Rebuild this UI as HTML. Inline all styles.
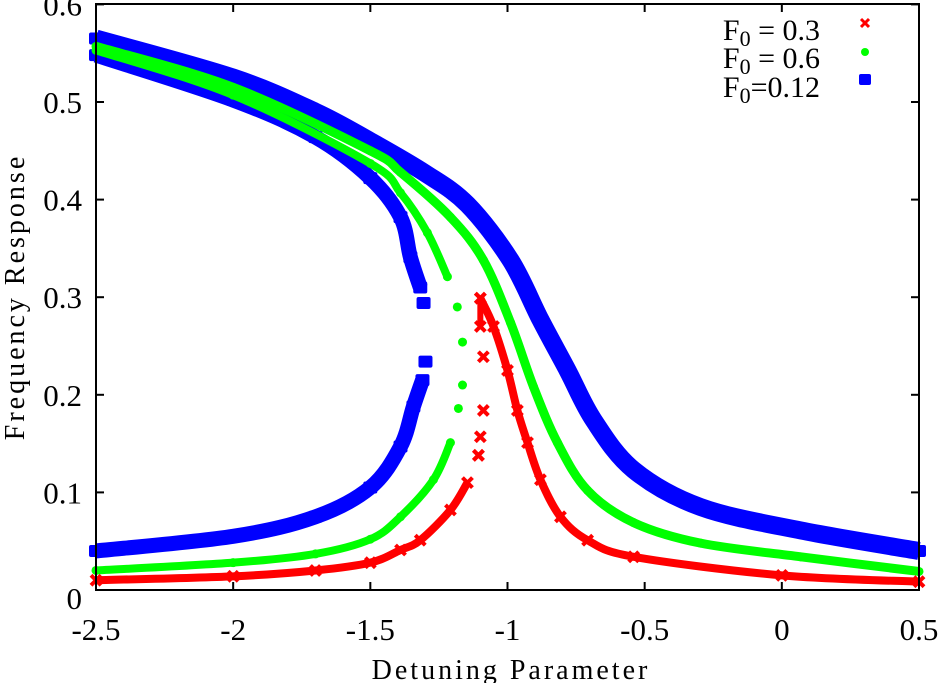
<!DOCTYPE html>
<html><head><meta charset="utf-8"><style>
body{margin:0;background:#fff;}
svg text{font-family:"Liberation Serif",serif;fill:#000;}
</style></head><body>
<svg id="chart" width="946" height="683" viewBox="0 0 946 683" xmlns="http://www.w3.org/2000/svg">
<defs><clipPath id="clipx"><rect x="86" y="0" width="845" height="600"/></clipPath></defs>
<g id="plot" clip-path="url(#clipx)"></g>
<rect x="96" y="4" width="823" height="586" fill="none" stroke="#000" stroke-width="2"/>
<g id="axes"></g>
<text x="511" y="679" font-size="28" text-anchor="middle" letter-spacing="3">Detuning Parameter</text>
<text transform="translate(24,297) rotate(-90)" font-size="28" text-anchor="middle" letter-spacing="3">Frequency Response</text>
<g>
<text x="820" y="40" font-size="30" text-anchor="end">F<tspan font-size="22" dy="6">0</tspan><tspan dy="-6"> = 0.3</tspan></text>
<text x="820" y="68" font-size="30" text-anchor="end">F<tspan font-size="22" dy="6">0</tspan><tspan dy="-6"> = 0.6</tspan></text>
<text x="820" y="97" font-size="30" text-anchor="end">F<tspan font-size="22" dy="6">0</tspan><tspan dy="-6">=0.12</tspan></text>
<g stroke="#f00" stroke-width="3"><line x1="861" y1="19" x2="869" y2="27"/><line x1="869" y1="19" x2="861" y2="27"/></g>
<circle cx="865" cy="52" r="4" fill="#0f0"/>
<rect x="859" y="74" width="12" height="11" rx="2" fill="#00f"/>
</g>
</svg>
<script>
const xTicks = [-2.5, -2, -1.5, -1, -0.5, 0, 0.5];
const xTickLabels = ["-2.5", "-2", "-1.5", "-1", "-0.5", "0", "0.5"];
const yTicks = [0, 0.1, 0.2, 0.3, 0.4, 0.5, 0.6];
const yTickLabels = ["0", "0.1", "0.2", "0.3", "0.4", "0.5", "0.6"];

const blueOuter = [[-2.5,0.565],[-2,0.525],[-1.7,0.49],[-1.5,0.46],[-1.3,0.427],[-1.146,0.395],[-0.989,0.338],[-0.88,0.277],[-0.781,0.225],[-0.686,0.174],[-0.54,0.123],[-0.296,0.085],[0.069,0.061],[0.5,0.04]];
const blueInner = [[-2.5,0.548],[-2,0.502],[-1.7,0.464],[-1.5,0.422],[-1.39,0.382],[-1.354,0.341],[-1.318,0.31],[-1.306,0.294]];
const blueLower = [[-2.5,0.04],[-2,0.055],[-1.7,0.075],[-1.5,0.105],[-1.39,0.147],[-1.343,0.188],[-1.31,0.215],[-1.299,0.234]];
const greenOuter = [[-2.5,0.557],[-2,0.515],[-1.5,0.45],[-1.39,0.428],[-1.208,0.382],[-1.088,0.338],[-0.989,0.274],[-0.905,0.208],[-0.818,0.151],[-0.708,0.102],[-0.54,0.069],[-0.296,0.048],[0.069,0.034],[0.5,0.019]];
const greenInner = [[-2.5,0.553],[-2,0.507],[-1.5,0.437],[-1.39,0.407],[-1.292,0.366],[-1.219,0.321],[-1.183,0.29],[-1.164,0.254]];
const greenLower = [[-2.5,0.02],[-2,0.028],[-1.7,0.037],[-1.5,0.052],[-1.39,0.075],[-1.27,0.113],[-1.208,0.151],[-1.179,0.186],[-1.164,0.21]];
const redOuter = [[-1.099,0.299],[-1.051,0.27],[-1.0,0.225],[-0.964,0.184],[-0.927,0.151],[-0.88,0.113],[-0.807,0.075],[-0.708,0.051],[-0.54,0.034],[0,0.015],[0.5,0.0085]];
const redInner = [[-1.099,0.299],[-1.099,0.27],[-1.088,0.239],[-1.088,0.184],[-1.099,0.157],[-1.106,0.138]];
const redLower = [[-2.5,0.01],[-2,0.014],[-1.7,0.02],[-1.5,0.028],[-1.39,0.041],[-1.318,0.051],[-1.208,0.082],[-1.146,0.11],[-1.106,0.138]];

const NS = "http://www.w3.org/2000/svg";
const X0 = 96, X1 = 919, Y0 = 590, Y1 = 4.4;
function sx(v){ return X0 + (v + 2.5) / 3 * (X1 - X0); }
function sy(v){ return Y0 - v / 0.6 * (Y0 - Y1); }
const plot = document.getElementById('plot');
const axes = document.getElementById('axes');

function mk(tag, attrs, parent){
  const e = document.createElementNS(NS, tag);
  for (const k in attrs) e.setAttribute(k, attrs[k]);
  parent.appendChild(e);
  return e;
}

xTicks.forEach((t, i) => {
  const l = mk('line', {x1: sx(t), x2: sx(t), y1: Y0, y2: Y0 - 8, stroke: '#000', 'stroke-width': 2}, axes);
  
  
  const l2 = mk('line', {x1: sx(t), x2: sx(t), y1: 4, y2: 12, stroke: '#000', 'stroke-width': 2}, axes);
  
  
  const tx = mk('text', {x: sx(t), y: 640, 'font-size': 31, 'text-anchor': 'middle'}, axes);
  tx.textContent = xTickLabels[i];
  
  
});
yTicks.forEach((t, i) => {
  const l = mk('line', {x1: X0, x2: X0 + 8, y1: sy(t), y2: sy(t), stroke: '#000', 'stroke-width': 2}, axes);
  
  
  const l2 = mk('line', {x1: X1 - 8, x2: X1, y1: sy(t), y2: sy(t), stroke: '#000', 'stroke-width': 2}, axes);
  
  
  const tx = mk('text', {x: 82, y: sy(t) + 11 + (t === 0 ? 8 : 0), 'font-size': 31, 'text-anchor': 'end'}, axes);
  tx.textContent = yTickLabels[i];
  
  
});

function smoothPath(P){
  let d = 'M' + P[0][0] + ',' + P[0][1];
  for (let i = 0; i < P.length - 1; i++){
    const p0 = P[Math.max(0, i-1)], p1 = P[i], p2 = P[i+1], p3 = P[Math.min(P.length-1, i+2)];
    const c1x = p1[0] + (p2[0]-p0[0])/6, c1y = p1[1] + (p2[1]-p0[1])/6;
    const c2x = p2[0] - (p3[0]-p1[0])/6, c2y = p2[1] - (p3[1]-p1[1])/6;
    d += `C${c1x},${c1y} ${c2x},${c2y} ${p2[0]},${p2[1]}`;
  }
  return d;
}

function drawBranch(pts, color, width, marker, name, sparse){
  const g = mk('g', {}, plot);
  
  
  const P = pts.map(d => [sx(d[0]), sy(d[1])]);
  const bandPts = sparse ? P.slice(0, P.length - sparse) : P;
  if (bandPts.length > 1) {
    const p = mk('path', {d: smoothPath(bandPts), fill: 'none', stroke: color, 'stroke-width': width, 'stroke-linejoin': 'round', 'stroke-linecap': 'butt'}, g);
    
    
  }
  P.forEach(([x, y]) => {
    let m;
    if (marker === 'sq') m = mk('rect', {x: x - 7, y: y - 6, width: 14, height: 12, rx: 2, fill: color}, g);
    else if (marker === 'dot') m = mk('circle', {cx: x, cy: y, r: 4.5, fill: color}, g);
    else m = mk('path', {d: `M${x-5},${y-5}L${x+5},${y+5}M${x+5},${y-5}L${x-5},${y+5}`, stroke: color, 'stroke-width': 4}, g);
    
    
  });
}
drawBranch(blueOuter, '#00f', 18, 'sq', 'series-012-upper', 0);
drawBranch(blueInner, '#00f', 15, 'sq', 'series-012-middle', 1);
drawBranch(blueLower, '#00f', 15, 'sq', 'series-012-lower', 1);
drawBranch(greenOuter, '#0f0', 9, 'dot', 'series-06-upper', 0);
drawBranch(greenInner, '#0f0', 8, 'dot', 'series-06-middle', 2);
drawBranch(greenLower, '#0f0', 8, 'dot', 'series-06-lower', 2);
drawBranch(redOuter, '#f00', 8, 'x', 'series-03-upper', 0);
drawBranch(redInner, '#f00', 6, 'x', 'series-03-middle', 4);
drawBranch(redLower, '#f00', 8, 'x', 'series-03-lower', 1);
</script>
</body></html>
